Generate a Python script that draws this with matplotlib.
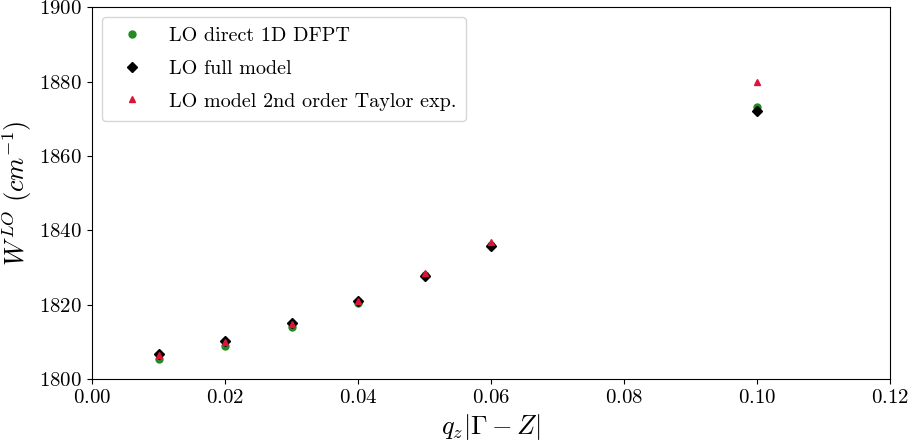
import matplotlib
matplotlib.use("Agg")
import matplotlib.pyplot as plt

plt.rcParams["font.family"] = "serif"
plt.rcParams["font.serif"] = ["cmr10", "DejaVu Serif"]
plt.rcParams["mathtext.fontset"] = "cm"
plt.rcParams["axes.formatter.use_mathtext"] = True

# data
q = [0.01, 0.02, 0.03, 0.04, 0.05, 0.06, 0.10]
w_dfpt = [1805.5, 1808.9, 1814.0, 1820.5, 1828.0, 1836.0, 1873.2]
w_full = [1806.9, 1810.2, 1815.0, 1821.0, 1827.8, 1835.7, 1872.2]
w_taylor = [1806.6, 1810.0, 1814.8, 1821.1, 1828.6, 1837.0, 1879.8]

fig, ax = plt.subplots(figsize=(9.13, 4.44), dpi=100)
fig.subplots_adjust(left=0.1008, right=0.975, top=0.984, bottom=0.146)

ax.plot(q, w_dfpt, "o", color="forestgreen", markersize=5, label="LO direct 1D DFPT")
ax.plot(q, w_full, "D", color="black", markersize=5, label="LO full model")
ax.plot(q, w_taylor, "^", color="crimson", markersize=5, label="LO model 2nd order Taylor exp.")

ax.set_xlim(0, 0.12)
ax.set_ylim(1800, 1900)
ax.tick_params(labelsize=15)
ax.set_xlabel(r"$q_z|\Gamma - Z|$", fontsize=19)
ax.set_ylabel(r"$W^{LO}\ (cm^{-1})$", fontsize=19)
ax.legend(loc="upper left", fontsize=14.5, labelspacing=0.72, borderpad=0.5)

fig.savefig("out.png", dpi=100)
